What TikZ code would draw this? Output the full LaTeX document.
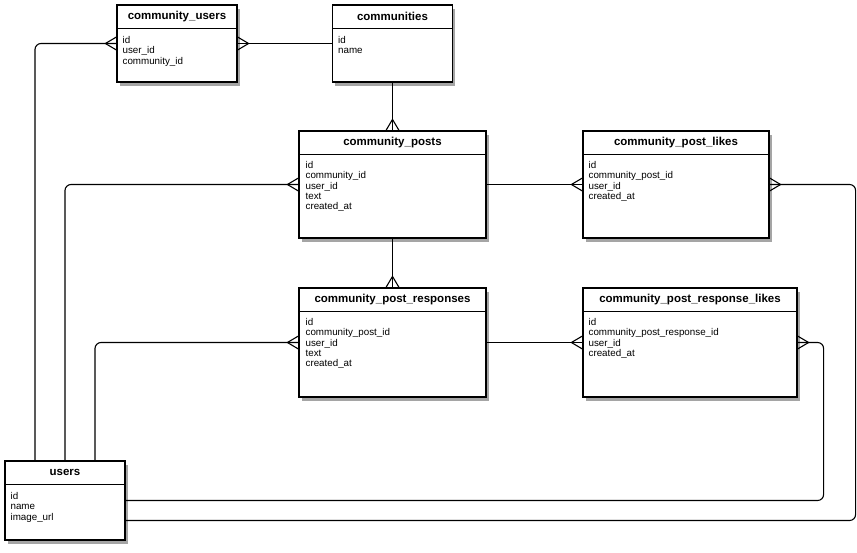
\documentclass[tikz,border=0pt]{standalone}
\usepackage{fontspec}
\setmainfont{Liberation Sans}
\usetikzlibrary{positioning, calc, shadows, decorations.markings}

\begin{document}
\begin{tikzpicture}[
    x=1pt, y=-1pt,
    table/.style={draw, line width=1.2pt, fill=white, inner sep=0pt,
                  drop shadow={shadow xshift=2.5pt, shadow yshift=-3.5pt,
                               opacity=0.5, fill=black!70}},
    title/.style={font=\bfseries\fontsize{11.5}{13}\selectfont, inner sep=0pt},
    fields/.style={font=\fontsize{9.8}{10.2}\selectfont, align=left,
                   anchor=north west, inner sep=0pt},
    crow/.style={postaction={decorate, decoration={markings,
        mark=at position 1 with {\draw[line width=1.1pt, sharp corners]
            (-11pt,0) -- (0,6.5pt) (-11pt,0) -- (0,-6.5pt);}}}},
    rel/.style={line width=1.1pt, rounded corners=6pt, crow},
]
\useasboundingbox (0,0) rectangle (857,552);

% --- Tables ---
\node[table, minimum width=120pt, minimum height=77pt] (cusers) at (177,43.5) {};
\node[table, minimum width=120pt, minimum height=77pt] (communities) at (392.5,43.5) {};
\node[table, minimum width=187pt, minimum height=107pt] (cposts) at (392.5,184.5) {};
\node[table, minimum width=186pt, minimum height=107pt] (cplikes) at (676,184.5) {};
\node[table, minimum width=187pt, minimum height=109pt] (cresp) at (392.5,342.5) {};
\node[table, minimum width=214pt, minimum height=109pt] (crlikes) at (690,342.5) {};
\node[table, minimum width=120pt, minimum height=79pt] (users) at (65,500.5) {};

% header rules
\foreach \t in {cusers, communities, cposts, cplikes, cresp, crlikes, users}
    \draw[line width=1pt] ([yshift=-24pt]\t.north west) -- ([yshift=-24pt]\t.north east);

% --- Titles ---
\node[title] (cusers-t) at ([yshift=-12pt]cusers.north) {community\_users};
\node[title] (communities-t) at ([yshift=-12pt]communities.north) {communities};
\node[title] (cposts-t) at ([yshift=-12pt]cposts.north) {community\_posts};
\node[title] (cplikes-t) at ([yshift=-12pt]cplikes.north) {community\_post\_likes};
\node[title] (cresp-t) at ([yshift=-12pt]cresp.north) {community\_post\_responses};
\node[title] (crlikes-t) at ([yshift=-12pt]crlikes.north) {community\_post\_response\_likes};
\node[title] (users-t) at ([yshift=-12pt]users.north) {users};

% --- Fields ---
\node[fields] (cusers-f) at ([shift={(6pt,-32pt)}]cusers.north west)
    {id\\user\_id\\community\_id};
\node[fields] (communities-f) at ([shift={(6pt,-32pt)}]communities.north west)
    {id\\name};
\node[fields] (cposts-f) at ([shift={(7pt,-31pt)}]cposts.north west)
    {id\\community\_id\\user\_id\\text\\created\_at};
\node[fields] (cplikes-f) at ([shift={(6pt,-31pt)}]cplikes.north west)
    {id\\community\_post\_id\\user\_id\\created\_at};
\node[fields] (cresp-f) at ([shift={(7pt,-31pt)}]cresp.north west)
    {id\\community\_post\_id\\user\_id\\text\\created\_at};
\node[fields] (crlikes-f) at ([shift={(6pt,-31pt)}]crlikes.north west)
    {id\\community\_post\_response\_id\\user\_id\\created\_at};
\node[fields] (users-f) at ([shift={(6pt,-32pt)}]users.north west)
    {id\\name\\image\_url};

% --- Relations ---
\draw[rel] (communities.west) -- (cusers.east);
\draw[rel] (communities.south) -- (cposts.north);
\draw[rel] (cposts.south) -- (cresp.north);
\draw[rel] (cposts.east) -- (cplikes.west);
\draw[rel] (cresp.east) -- (crlikes.west);

\draw[rel] ([xshift=-30pt]users.north) |- (cusers.west);
\draw[rel] (users.north) |- (cposts.west);
\draw[rel] ([xshift=30pt]users.north) |- (cresp.west);
\draw[rel] (users.east) -| ([xshift=26pt]crlikes.east) -- (crlikes.east);
\draw[rel] ([yshift=-20pt]users.east) -| ([xshift=86pt]cplikes.east) -- (cplikes.east);
\end{tikzpicture}
\end{document}
